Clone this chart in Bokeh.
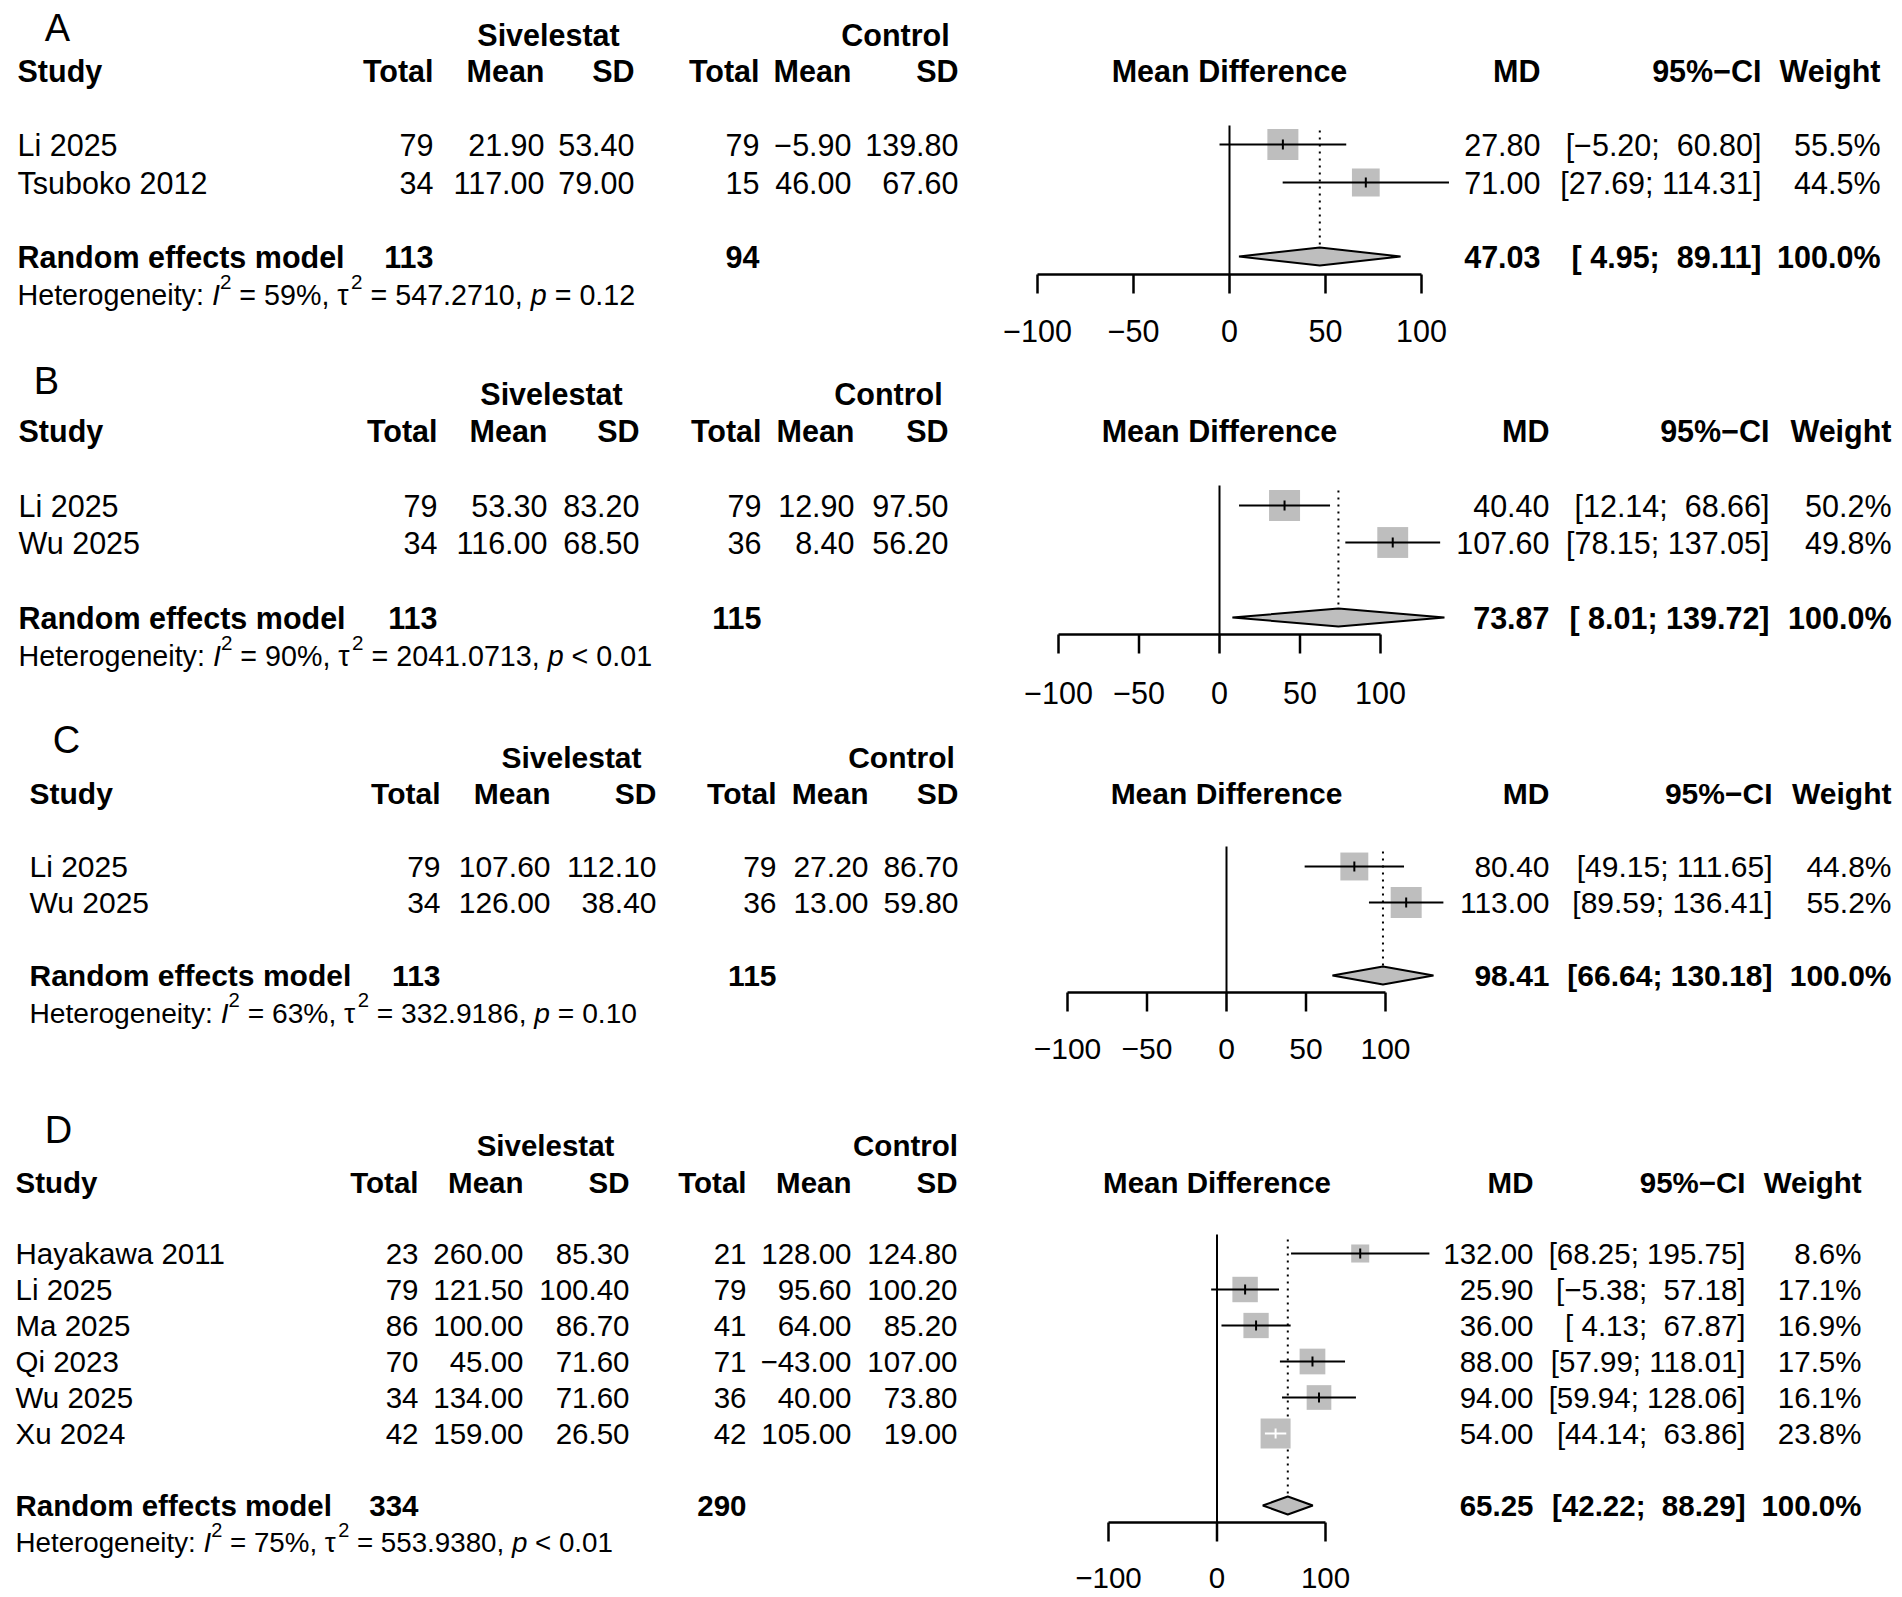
import math
from bokeh.plotting import figure
from bokeh.models import Range1d, ColumnDataSource
from bokeh.core.properties import value
from bokeh.embed import file_html
from bokeh.resources import INLINE

# ---------------- data ----------------
A_study = ["Li 2025", "Tsuboko 2012"]
A_n1 = [79, 34]
A_mean1 = [21.90, 117.00]
A_sd1 = [53.40, 79.00]
A_n2 = [79, 15]
A_mean2 = [-5.90, 46.00]
A_sd2 = [139.80, 67.60]
A_md = [27.80, 71.00]
A_lo = [-5.20, 27.69]
A_hi = [60.80, 114.31]
A_w = [55.5, 44.5]
A_pooled = [47.03, 4.95, 89.11]
A_tot = [113, 94]
A_het = [59, 547.2710, "=", 0.12]
A_ticks = [-100, -50, 0, 50, 100]

B_study = ["Li 2025", "Wu 2025"]
B_n1 = [79, 34]
B_mean1 = [53.30, 116.00]
B_sd1 = [83.20, 68.50]
B_n2 = [79, 36]
B_mean2 = [12.90, 8.40]
B_sd2 = [97.50, 56.20]
B_md = [40.40, 107.60]
B_lo = [12.14, 78.15]
B_hi = [68.66, 137.05]
B_w = [50.2, 49.8]
B_pooled = [73.87, 8.01, 139.72]
B_tot = [113, 115]
B_het = [90, 2041.0713, "<", 0.01]
B_ticks = [-100, -50, 0, 50, 100]

C_study = ["Li 2025", "Wu 2025"]
C_n1 = [79, 34]
C_mean1 = [107.60, 126.00]
C_sd1 = [112.10, 38.40]
C_n2 = [79, 36]
C_mean2 = [27.20, 13.00]
C_sd2 = [86.70, 59.80]
C_md = [80.40, 113.00]
C_lo = [49.15, 89.59]
C_hi = [111.65, 136.41]
C_w = [44.8, 55.2]
C_pooled = [98.41, 66.64, 130.18]
C_tot = [113, 115]
C_het = [63, 332.9186, "=", 0.10]
C_ticks = [-100, -50, 0, 50, 100]

D_study = ["Hayakawa 2011", "Li 2025", "Ma 2025", "Qi 2023", "Wu 2025", "Xu 2024"]
D_n1 = [23, 79, 86, 70, 34, 42]
D_mean1 = [260.00, 121.50, 100.00, 45.00, 134.00, 159.00]
D_sd1 = [85.30, 100.40, 86.70, 71.60, 71.60, 26.50]
D_n2 = [21, 79, 41, 71, 36, 42]
D_mean2 = [128.00, 95.60, 64.00, -43.00, 40.00, 105.00]
D_sd2 = [124.80, 100.20, 85.20, 107.00, 73.80, 19.00]
D_md = [132.00, 25.90, 36.00, 88.00, 94.00, 54.00]
D_lo = [68.25, -5.38, 4.13, 57.99, 59.94, 44.14]
D_hi = [195.75, 57.18, 67.87, 118.01, 128.06, 63.86]
D_w = [8.6, 17.1, 16.9, 17.5, 16.1, 23.8]
D_pooled = [65.25, 42.22, 88.29]
D_tot = [334, 290]
D_het = [75, 553.9380, "<", 0.01]
D_ticks = [-100, 0, 100]

GROUP1 = "Sivelestat"
GROUP2 = "Control"

# ---------------- layout (page pixels) ----------------
LAYOUT = {
    "A": dict(fs=30.5, lab=(57, 27), siv=548, ctl=895, gy=34, hy=70, y0=144, step=38,
              re=256, het=294, axis=274, tl=330, ztop=125, zero=1229, ppu=1.92, box=31,
              cols=[17, 433, 544, 634, 759, 851, 958, 1540, 1761, 1880]),
    "B": dict(fs=30.5, lab=(46, 380), siv=551, ctl=888, gy=393, hy=430, y0=505, step=37,
              re=617, het=655, axis=634, tl=692, ztop=485, zero=1219, ppu=1.61, box=31,
              cols=[18, 437, 547, 639, 761, 854, 948, 1549, 1769, 1891]),
    "C": dict(fs=30, lab=(66, 739), siv=571, ctl=901, gy=757, hy=793, y0=866, step=36,
              re=975, het=1012, axis=992, tl=1048, ztop=846, zero=1226, ppu=1.59, box=31,
              cols=[29, 440, 550, 656, 776, 868, 958, 1549, 1772, 1891]),
    "D": dict(fs=29.5, lab=(58, 1129), siv=545, ctl=905, gy=1145, hy=1182, y0=1253, step=36,
              re=1505, het=1542, axis=1522, tl=1577, ztop=1234, zero=1216.5, ppu=1.085, box=30,
              cols=[15, 418, 523, 629, 746, 851, 957, 1533, 1745, 1861]),
}

FONT = "Liberation Sans"
MINUS = "\u2212"
NB = "\u00a0"
GRAY = "#BEBEBE"

W, H = 1900, 1595

ARIAL = {' ': 278, NB: 278, 'H': 722, 'e': 556, 't': 278, 'r': 333, 'o': 556, 'g': 556,
         'n': 556, 'i': 222, 'y': 500, ':': 278, 'I': 278, '=': 584, '%': 889, ',': 278,
         '.': 278, 'p': 556, '<': 584, '\u03c4': 480}


def tw(s, fs):
    return sum(ARIAL.get(ch, 556) for ch in s) / 1000.0 * fs


def f2(v):
    return f"{v:.2f}".replace("-", MINUS)


def ci_strings(los, his):
    ls = [f"{v:.2f}" for v in los]
    hs = [f"{v:.2f}" for v in his]
    wl = max(len(s) for s in ls)
    wh = max(len(s) for s in hs)
    out = []
    for l, h in zip(ls, hs):
        s = "[" + l.rjust(wl) + "; " + h.rjust(wh) + "]"
        out.append(s.replace(" ", NB).replace("-", MINUS))
    return out


p = figure(width=W, height=H, x_range=Range1d(0, W), y_range=Range1d(H, 0),
           x_axis_type=None, y_axis_type=None, output_backend="svg",
           toolbar_location=None, min_border=0, outline_line_color=None,
           background_fill_color="white", border_fill_color="white")
p.grid.visible = False

extra = {}
for nm, L in LAYOUT.items():
    start = -L["zero"] / L["ppu"]
    extra[nm] = Range1d(start, start + W / L["ppu"])
p.extra_x_ranges = extra


def T(xs, ys, texts, size, style="normal", align="left", xr=None):
    src = ColumnDataSource(dict(x=list(xs), y=list(ys), t=list(texts)))
    kw = {}
    if xr is not None:
        kw["x_range_name"] = xr
    p.text(x="x", y="y", text="t", source=src, text_font=value(FONT),
           text_font_size=value(f"{size}px"), text_font_style=value(style),
           text_align=align, text_baseline="middle", text_color="black", **kw)


def panel(nm, study, n1, m1, s1, n2, m2, s2, md, lo, hi, w, pooled, tot, het, ticks):
    L = LAYOUT[nm]
    fs = L["fs"]
    c = L["cols"]
    # panel letter
    T([L["lab"][0]], [L["lab"][1]], [nm], 38, "normal", "center")
    # group headers
    T([L["siv"]], [L["gy"]], [GROUP1], fs, "bold", "center")
    T([L["ctl"]], [L["gy"]], [GROUP2], fs, "bold", "center")
    hy = L["hy"]
    T([c[0]], [hy], ["Study"], fs, "bold", "left")
    T(c[1:7], [hy] * 6, ["Total", "Mean", "SD", "Total", "Mean", "SD"], fs, "bold", "right")
    T(c[7:10], [hy] * 3, ["MD", "95%" + MINUS + "CI", "Weight"], fs, "bold", "right")
    T([0], [hy], ["Mean Difference"], fs, "bold", "center", xr=nm)

    ys = [L["y0"] + i * L["step"] for i in range(len(study))]
    cis = ci_strings(lo + [pooled[1]], hi + [pooled[2]])
    T([c[0]] * len(ys), ys, study, fs, "normal", "left")
    cols_vals = [[str(v) for v in n1], [f2(v) for v in m1], [f2(v) for v in s1],
                 [str(v) for v in n2], [f2(v) for v in m2], [f2(v) for v in s2],
                 [f2(v) for v in md], cis[:-1], [f"{v:.1f}%" for v in w]]
    for k, vals in enumerate(cols_vals):
        T([c[k + 1]] * len(ys), ys, vals, fs, "normal", "right")

    # pooled row
    ry = L["re"]
    T([c[0]], [ry], ["Random effects model"], fs, "bold", "left")
    T([c[1], c[4]], [ry, ry], [str(tot[0]), str(tot[1])], fs, "bold", "right")
    T([c[7], c[8], c[9]], [ry] * 3, [f2(pooled[0]), cis[-1], "100.0%"], fs, "bold", "right")

    # heterogeneity line with italics and superscripts
    hfs = fs * 0.94
    sfs = hfs * 0.72
    i2, tau2, op, pv = het
    pieces = [("Heterogeneity: ", "normal", False), ("I", "italic", False), ("2", "normal", True),
              (f" = {i2}%, ", "normal", False), ("\u03c4", "normal", False), ("2", "normal", True),
              (f" = {tau2:.4f}, ", "normal", False), ("p", "italic", False),
              (f" {op} {pv:.2f}", "normal", False)]
    x = c[0]
    for s, st, sup in pieces:
        size = sfs if sup else hfs
        lead = len(s) - len(s.lstrip(" "))
        body = s.strip(" ")
        xx = x + tw(" " * lead, size)
        yy = L["het"] - (hfs * 0.45 if sup else 0)
        if body:
            T([xx], [yy], [body], round(size, 2), st, "left")
        x += tw(s, size)

    # forest: zero line, dotted pooled line
    p.segment(x0=[0], y0=[L["ztop"]], x1=[0], y1=[L["axis"]], x_range_name=nm,
              line_color="black", line_width=2)
    dh = 9
    p.segment(x0=[pooled[0]], y0=[L["ztop"] + 5], x1=[pooled[0]], y1=[ry - dh],
              x_range_name=nm, line_color="black", line_width=2, line_dash="2 5")

    # squares
    wmax = max(w)
    sides = [L["box"] * math.sqrt(v / wmax) for v in w]
    p.rect(x=md, y=ys, width=sides, height=sides, width_units="screen", height_units="screen",
           x_range_name=nm, fill_color=GRAY, line_color=None)
    # CI lines (white when inside the box)
    colors = ["white" if (h - l) * L["ppu"] < sd else "black" for l, h, sd in zip(lo, hi, sides)]
    p.segment(x0=lo, y0=ys, x1=hi, y1=ys, x_range_name=nm, line_color=colors, line_width=2)
    p.segment(x0=md, y0=[y - 5 for y in ys], x1=md, y1=[y + 5 for y in ys], x_range_name=nm,
              line_color=colors, line_width=2)

    # diamond
    p.patches(xs=[[pooled[1], pooled[0], pooled[2], pooled[0]]],
              ys=[[ry, ry - dh, ry, ry + dh]], x_range_name=nm,
              fill_color=GRAY, line_color="black", line_width=2)

    # axis
    ay = L["axis"]
    p.segment(x0=[min(ticks)], y0=[ay], x1=[max(ticks)], y1=[ay], x_range_name=nm,
              line_color="black", line_width=2.5)
    p.segment(x0=ticks, y0=[ay] * len(ticks), x1=ticks, y1=[ay + 19] * len(ticks),
              x_range_name=nm, line_color="black", line_width=2.5)
    T(ticks, [L["tl"]] * len(ticks), [str(t).replace("-", MINUS) for t in ticks], fs,
      "normal", "center", xr=nm)


panel("A", A_study, A_n1, A_mean1, A_sd1, A_n2, A_mean2, A_sd2, A_md, A_lo, A_hi, A_w,
      A_pooled, A_tot, A_het, A_ticks)
panel("B", B_study, B_n1, B_mean1, B_sd1, B_n2, B_mean2, B_sd2, B_md, B_lo, B_hi, B_w,
      B_pooled, B_tot, B_het, B_ticks)
panel("C", C_study, C_n1, C_mean1, C_sd1, C_n2, C_mean2, C_sd2, C_md, C_lo, C_hi, C_w,
      C_pooled, C_tot, C_het, C_ticks)
panel("D", D_study, D_n1, D_mean1, D_sd1, D_n2, D_mean2, D_sd2, D_md, D_lo, D_hi, D_w,
      D_pooled, D_tot, D_het, D_ticks)

open("out.html", "w").write(file_html(p, INLINE))
